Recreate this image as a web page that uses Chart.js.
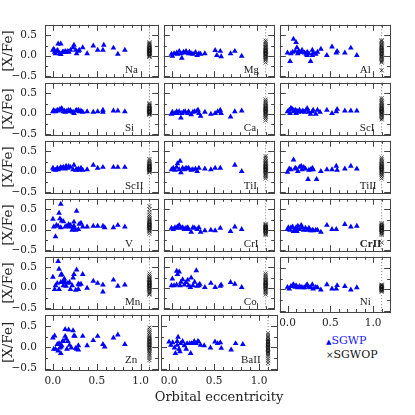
<!DOCTYPE html>
<html>
<head>
<meta charset="utf-8">
<script src="https://cdn.jsdelivr.net/npm/chart.js@4.4.0/dist/chart.umd.min.js"></script>
<style>
  body { margin: 0; background: #fff; }
  #wrap { position: relative; width: 415px; height: 415px; overflow: hidden; }
  #wrap canvas { position: absolute; }
  .leg { position: absolute; font: 11px "DejaVu Serif"; line-height: 12px; white-space: nowrap; }
</style>
</head>
<body>
<div id="wrap">
  <div class="leg" style="left:326px; top:335px; color:#1a1aff;"><span style="font-size:7px; color:#0000ff;">▲</span>SGWP</div>
  <div class="leg" style="left:326px; top:349px; color:#111;"><span style="font-size:9px;">×</span>SGWOP</div>
</div>
<script>
// eccentricity of the planet hosts (SGWP) and their [X/Fe]
const naEcc = [0.00,0.01,0.02,0.03,0.05,0.05,0.06,0.06,0.08,0.09,0.09,0.11,0.12,0.14,0.15,0.17,0.18,0.20,0.23,0.24,0.26,0.27,0.29,0.30,0.34,0.39,0.46,0.51,0.57,0.58,0.69,0.74,0.82];
const naXFe = [0.14,0.16,0.09,0.05,0.11,0.13,0.29,0.11,0.05,0.29,0.03,0.09,0.09,0.11,0.09,0.11,0.09,0.14,0.20,0.26,0.14,0.05,0.11,0.14,0.20,0.05,0.24,0.14,0.14,0.26,0.19,0.04,0.14];
const mgEcc = [0.00,0.01,0.03,0.06,0.07,0.09,0.11,0.12,0.14,0.16,0.17,0.20,0.21,0.23,0.25,0.28,0.30,0.32,0.34,0.39,0.51,0.53,0.57,0.58,0.69,0.74,0.82];
const mgXFe = [0.04,-0.01,0.05,0.07,0.04,0.11,0.05,-0.06,0.09,0.07,0.11,0.05,0.09,0.05,0.04,0.08,0.01,0.05,0.04,0.05,0.13,0.01,0.11,-0.02,0.05,0.11,-0.01];
const alEcc = [0.00,0.03,0.04,0.06,0.07,0.09,0.10,0.11,0.12,0.13,0.14,0.16,0.17,0.20,0.22,0.23,0.23,0.25,0.27,0.29,0.29,0.30,0.33,0.35,0.39,0.46,0.52,0.57,0.58,0.67,0.74,0.81];
const alXFe = [0.07,-0.14,0.05,0.09,0.41,0.11,0.33,0.20,0.05,0.11,0.09,0.09,0.14,0.07,0.04,0.09,0.01,0.05,-0.14,0.14,0.01,0.07,0.04,0.09,0.16,0.01,0.22,0.07,0.11,0.07,0.19,0.01];
const siEcc = [0.00,0.01,0.03,0.05,0.06,0.08,0.09,0.10,0.12,0.13,0.14,0.16,0.18,0.19,0.20,0.23,0.24,0.26,0.27,0.29,0.30,0.32,0.34,0.39,0.46,0.51,0.57,0.57,0.69,0.74,0.82];
const siXFe = [0.05,0.08,0.05,0.09,0.07,0.11,0.09,0.13,0.05,0.07,0.04,0.07,0.08,0.05,0.08,0.04,0.01,0.07,0.08,0.09,0.05,0.07,0.04,0.05,0.04,0.05,0.09,0.04,0.07,0.07,0.05];
const caEcc = [0.00,0.01,0.04,0.06,0.07,0.09,0.11,0.12,0.14,0.16,0.19,0.20,0.23,0.25,0.27,0.30,0.31,0.32,0.34,0.39,0.46,0.51,0.54,0.57,0.58,0.69,0.74,0.82];
const caXFe = [-0.01,0.04,0.01,0.05,0.01,0.05,-0.10,0.01,0.04,0.05,0.01,0.05,-0.02,0.04,0.05,0.07,0.09,0.01,-0.06,0.04,-0.01,0.01,0.05,0.09,0.01,-0.08,0.05,0.07];
const sc1Ecc = [0.00,0.02,0.03,0.04,0.06,0.07,0.09,0.10,0.11,0.13,0.14,0.17,0.18,0.20,0.22,0.23,0.25,0.27,0.29,0.30,0.33,0.35,0.38,0.46,0.52,0.57,0.58,0.67,0.74,0.81];
const sc1XFe = [0.05,0.09,0.01,0.14,0.11,0.05,0.09,0.01,0.07,0.04,0.09,0.05,0.07,0.04,0.09,0.13,0.04,-0.01,0.05,0.09,-0.01,0.09,0.04,0.09,0.01,0.05,0.11,0.07,0.07,0.07];
const sc2Ecc = [0.00,0.01,0.03,0.05,0.06,0.08,0.09,0.11,0.12,0.14,0.15,0.17,0.18,0.20,0.23,0.24,0.26,0.27,0.29,0.30,0.32,0.34,0.39,0.46,0.51,0.57,0.69,0.74,0.82];
const sc2XFe = [0.09,0.05,0.04,0.09,0.05,0.07,0.11,0.09,0.11,0.07,0.14,0.09,0.13,0.11,0.05,0.16,0.04,0.05,0.07,0.04,0.09,0.04,0.05,0.16,0.09,0.11,0.11,0.11,0.11];
const ti1Ecc = [0.00,0.02,0.04,0.06,0.07,0.09,0.10,0.11,0.13,0.15,0.17,0.19,0.20,0.23,0.25,0.28,0.30,0.32,0.39,0.46,0.51,0.57,0.74,0.82];
const ti1XFe = [0.05,0.09,0.04,0.11,0.20,0.05,0.26,-0.02,0.09,0.05,0.09,0.07,0.09,0.04,0.05,0.07,0.01,0.09,0.07,0.05,0.09,0.09,0.16,0.01];
const ti2Ecc = [0.00,0.02,0.04,0.07,0.09,0.10,0.12,0.14,0.16,0.17,0.19,0.21,0.24,0.25,0.27,0.29,0.30,0.34,0.39,0.46,0.52,0.57,0.58,0.67,0.74,0.81];
const ti2XFe = [-0.01,0.07,0.05,0.29,0.09,0.07,0.01,0.11,0.14,0.05,0.11,0.07,-0.19,0.04,0.05,0.09,0.05,-0.19,0.01,0.05,0.05,0.14,0.04,0.07,0.14,0.07];
const vEcc = [0.00,0.01,0.03,0.04,0.06,0.07,0.08,0.09,0.09,0.10,0.12,0.14,0.16,0.18,0.19,0.20,0.22,0.23,0.24,0.24,0.26,0.27,0.29,0.30,0.32,0.34,0.39,0.46,0.51,0.57,0.59,0.69,0.74,0.82];
const vXFe = [0.26,0.07,-0.17,0.11,0.09,0.41,0.27,0.63,0.05,0.22,0.20,0.07,0.09,0.13,0.07,0.11,-0.01,0.05,0.19,0.09,-0.01,0.46,0.01,0.14,0.16,0.07,0.07,0.09,0.09,0.09,0.05,0.05,0.11,0.07];
const cr1Ecc = [0.00,0.02,0.04,0.06,0.07,0.09,0.11,0.13,0.15,0.17,0.19,0.20,0.23,0.25,0.27,0.30,0.32,0.34,0.39,0.46,0.51,0.57,0.69,0.74,0.82];
const cr1XFe = [0.04,0.01,0.05,0.04,0.07,0.11,0.04,0.05,0.01,0.04,0.05,0.01,-0.06,0.05,0.04,0.01,0.05,-0.06,-0.02,-0.01,-0.02,0.04,-0.04,0.07,0.01];
const cr2Ecc = [0.00,0.01,0.03,0.04,0.06,0.07,0.09,0.10,0.11,0.12,0.14,0.16,0.17,0.19,0.21,0.23,0.25,0.27,0.29,0.30,0.33,0.35,0.39,0.46,0.52,0.57,0.67,0.74,0.81];
const cr2XFe = [0.01,0.05,-0.01,0.05,0.07,-0.04,-0.02,0.05,-0.04,0.09,0.01,0.11,0.05,-0.01,0.04,-0.01,0.04,-0.02,-0.01,-0.02,-0.01,-0.01,-0.06,0.11,0.01,0.01,0.13,0.07,0.09];
const mnEcc = [0.00,0.02,0.03,0.05,0.06,0.07,0.07,0.09,0.09,0.10,0.12,0.12,0.13,0.14,0.15,0.17,0.19,0.20,0.22,0.23,0.24,0.26,0.27,0.29,0.29,0.30,0.32,0.34,0.39,0.46,0.51,0.57,0.57,0.69,0.74,0.82];
const mnXFe = [0.26,-0.04,0.05,0.11,0.65,-0.04,0.46,0.13,0.31,0.33,0.16,0.05,0.22,0.13,0.04,0.11,0.13,-0.04,0.05,0.24,0.33,-0.06,0.44,-0.04,0.09,0.07,0.09,0.33,-0.01,0.16,0.11,-0.10,0.07,0.19,0.04,0.07];
const coEcc = [0.00,0.01,0.03,0.06,0.06,0.07,0.09,0.10,0.11,0.13,0.15,0.17,0.19,0.20,0.22,0.23,0.25,0.27,0.29,0.30,0.32,0.33,0.39,0.46,0.51,0.57,0.58,0.69,0.74,0.82];
const coXFe = [0.05,0.22,0.05,0.07,0.41,0.33,0.39,0.05,0.14,0.20,0.07,0.13,0.19,0.05,0.01,0.24,0.05,0.14,0.42,0.04,0.05,0.09,0.01,0.11,0.01,0.04,0.07,0.13,0.09,0.01];
const niEcc = [0.00,0.02,0.04,0.06,0.07,0.09,0.10,0.12,0.14,0.16,0.18,0.20,0.22,0.23,0.25,0.27,0.29,0.30,0.33,0.35,0.39,0.46,0.52,0.57,0.58,0.67,0.74,0.81];
const niXFe = [0.05,0.01,0.07,0.09,0.11,0.05,0.09,0.04,0.07,0.05,0.04,0.04,0.09,0.11,0.05,0.04,0.11,0.01,0.05,0.04,-0.01,0.11,0.01,0.01,0.09,0.07,-0.01,0.04];
const znEcc = [0.00,0.01,0.02,0.03,0.05,0.06,0.07,0.08,0.09,0.09,0.10,0.11,0.12,0.14,0.14,0.15,0.16,0.17,0.18,0.19,0.21,0.23,0.24,0.25,0.26,0.27,0.29,0.29,0.34,0.39,0.46,0.51,0.57,0.59,0.69,0.74,0.82];
const znXFe = [0.22,-0.04,0.27,-0.04,0.07,-0.08,0.09,-0.01,0.01,-0.14,0.04,0.14,0.14,0.42,0.26,0.20,-0.04,0.14,0.41,0.05,-0.01,0.39,0.27,0.26,-0.02,-0.04,-0.06,0.04,0.26,0.04,0.16,0.26,0.07,0.01,0.22,0.29,0.07];
const baEcc = [0.00,0.02,0.04,0.06,0.07,0.09,0.09,0.10,0.11,0.12,0.13,0.15,0.17,0.19,0.20,0.23,0.24,0.25,0.27,0.28,0.30,0.32,0.33,0.35,0.39,0.46,0.51,0.54,0.57,0.58,0.69,0.74,0.82];
const baXFe = [0.13,0.05,0.11,-0.01,-0.14,0.05,0.14,0.24,-0.04,-0.10,0.09,0.14,0.04,-0.04,0.09,0.09,-0.14,0.09,0.09,0.14,0.09,0.14,0.13,0.05,0.04,-0.01,0.13,0.09,0.11,-0.02,-0.06,0.09,0.07];

// [X/Fe] of the comparison stars without planets (SGWOP), all plotted at one column
const naWop = [0.33,0.30,0.28,0.25,0.23,0.21,0.19,0.18,0.17,0.16,0.15,0.14,0.13,0.12,0.11,0.10,0.09,0.08,0.07,0.06,0.05,0.04,0.02,0.00,-0.02,-0.03];
const mgWop = [0.37,0.33,0.29,0.26,0.23,0.21,0.19,0.17,0.15,0.13,0.12,0.10,0.09,0.08,0.06,0.05,0.03,0.02,0.00,-0.02,-0.04,-0.06,-0.09,-0.12,-0.17];
const alWop = [0.38,0.35,0.31,0.28,0.25,0.22,0.20,0.18,0.16,0.14,0.12,0.10,0.08,0.06,0.04,0.02,0.00,-0.02,-0.05,-0.08,-0.11,-0.14,-0.17,-0.36];
const siWop = [0.26,0.23,0.20,0.18,0.16,0.14,0.13,0.12,0.11,0.10,0.09,0.08,0.07,0.06,0.05,0.04,0.03,0.02,0.01,0.00,-0.01,-0.03];
const caWop = [0.35,0.31,0.27,0.24,0.21,0.19,0.17,0.15,0.13,0.12,0.10,0.09,0.08,0.06,0.05,0.03,0.02,0.00,-0.02,-0.05,-0.08,-0.12,-0.17];
const sc1Wop = [0.38,0.34,0.30,0.27,0.24,0.21,0.19,0.17,0.15,0.13,0.12,0.10,0.09,0.08,0.06,0.05,0.03,0.02,0.00,-0.02,-0.05,-0.08,-0.11,-0.14];
const sc2Wop = [0.31,0.27,0.24,0.21,0.19,0.17,0.15,0.14,0.13,0.12,0.11,0.10,0.09,0.08,0.07,0.06,0.05,0.04,0.03,0.02,0.00,-0.02];
const ti1Wop = [0.38,0.34,0.30,0.26,0.23,0.21,0.19,0.17,0.15,0.13,0.12,0.10,0.09,0.08,0.06,0.05,0.03,0.02,0.00,-0.02,-0.04,-0.07,-0.10,-0.13,-0.17];
const ti2Wop = [0.35,0.31,0.27,0.24,0.21,0.19,0.17,0.15,0.13,0.12,0.10,0.09,0.08,0.06,0.05,0.03,0.02,0.00,-0.02,-0.05,-0.08,-0.12,-0.17];
const vWop = [0.58,0.50,0.43,0.37,0.32,0.28,0.25,0.22,0.20,0.18,0.16,0.14,0.12,0.11,0.10,0.09,0.08,0.06,0.05,0.04,0.02,0.00,-0.02,-0.05,-0.10];
const cr1Wop = [0.14,0.12,0.10,0.08,0.07,0.06,0.05,0.04,0.03,0.02,0.01,0.00,-0.01,-0.02,-0.03,-0.05,-0.07,-0.09,-0.11,-0.13];
const cr2Wop = [0.16,0.13,0.11,0.09,0.08,0.07,0.06,0.05,0.04,0.03,0.02,0.01,0.00,-0.01,-0.02,-0.04,-0.06,-0.08,-0.10,-0.13,-0.32];
const mnWop = [0.35,0.30,0.26,0.23,0.21,0.19,0.17,0.15,0.14,0.12,0.11,0.10,0.08,0.07,0.06,0.04,0.03,0.02,0.00,-0.02,-0.04,-0.06,-0.09,-0.12,-0.15,-0.17];
const coWop = [0.35,0.31,0.27,0.24,0.21,0.19,0.17,0.15,0.13,0.12,0.10,0.09,0.07,0.06,0.05,0.03,0.02,0.00,-0.02,-0.04,-0.07,-0.10,-0.13,-0.17];
const niWop = [0.11,0.09,0.08,0.07,0.06,0.05,0.04,0.03,0.02,0.01,0.00,-0.01,-0.02,-0.04,-0.06];
const znWop = [0.46,0.41,0.36,0.32,0.28,0.25,0.22,0.20,0.18,0.16,0.14,0.12,0.10,0.08,0.06,0.05,0.03,0.01,-0.01,-0.03,-0.06,-0.09,-0.12,-0.16,-0.20,-0.25,-0.30];
const baWop = [0.33,0.28,0.24,0.20,0.17,0.15,0.13,0.11,0.09,0.07,0.06,0.04,0.02,0.01,-0.01,-0.03,-0.05,-0.07,-0.09,-0.11,-0.13,-0.16,-0.20,-0.26,-0.31,-0.37];

const SGWOP_ECC = 1.1;
const X_TICKS = [0, 0.5, 1.0];
const Y_TICKS = [-0.5, 0, 0.5];
const Y_MINOR = [-0.5, -0.25, 0, 0.25, 0.5];
const X_MIN = -0.09, X_MAX = 1.2, Y_MIN = -0.53, Y_MAX = 0.76;

const panels = [
  { label: 'Na',   ecc: naEcc,  xfe: naXFe,  wop: naWop },
  { label: 'Mg',   ecc: mgEcc,  xfe: mgXFe,  wop: mgWop },
  { label: 'Al',   ecc: alEcc,  xfe: alXFe,  wop: alWop },
  { label: 'Si',   ecc: siEcc,  xfe: siXFe,  wop: siWop },
  { label: 'Ca',   ecc: caEcc,  xfe: caXFe,  wop: caWop },
  { label: 'ScI',  ecc: sc1Ecc, xfe: sc1XFe, wop: sc1Wop },
  { label: 'ScII', ecc: sc2Ecc, xfe: sc2XFe, wop: sc2Wop },
  { label: 'TiI',  ecc: ti1Ecc, xfe: ti1XFe, wop: ti1Wop },
  { label: 'TiII', ecc: ti2Ecc, xfe: ti2XFe, wop: ti2Wop },
  { label: 'V',    ecc: vEcc,   xfe: vXFe,   wop: vWop },
  { label: 'CrI',  ecc: cr1Ecc, xfe: cr1XFe, wop: cr1Wop },
  { label: 'CrII', ecc: cr2Ecc, xfe: cr2XFe, wop: cr2Wop, bold: true },
  { label: 'Mn',   ecc: mnEcc,  xfe: mnXFe,  wop: mnWop },
  { label: 'Co',   ecc: coEcc,  xfe: coXFe,  wop: coWop },
  { label: 'Ni',   ecc: niEcc,  xfe: niXFe,  wop: niWop },
  { label: 'Zn',   ecc: znEcc,  xfe: znXFe,  wop: znWop },
  { label: 'BaII', ecc: baEcc,  xfe: baXFe,  wop: baWop }
];

const PW = 116, PH = 58, X0 = 45, Y0 = 22;
const TXT = '#222';
const wrap = document.getElementById('wrap');

// frame with inward ticks on all four sides, element name, shared x title
const deco = {
  id: 'deco',
  beforeDatasetsDraw(chart) {
    const { ctx, chartArea: a, scales: { x, y } } = chart;
    ctx.save();
    ctx.strokeStyle = '#444';
    ctx.lineWidth = 1;
    ctx.beginPath();
    for (let k = 0; k <= 12; k++) {
      const v = k / 10;
      const px = Math.round(x.getPixelForValue(v)) + 0.5;
      const len = X_TICKS.some(t => Math.abs(t - v) < 1e-6) ? 6 : 3;
      ctx.moveTo(px, a.bottom); ctx.lineTo(px, a.bottom - len);
      ctx.moveTo(px, a.top);    ctx.lineTo(px, a.top + len);
    }
    Y_MINOR.forEach(v => {
      const py = Math.round(y.getPixelForValue(v)) + 0.5;
      const len = Y_TICKS.includes(v) ? 6 : 3;
      ctx.moveTo(a.left, py);  ctx.lineTo(a.left + len, py);
      ctx.moveTo(a.right, py); ctx.lineTo(a.right - len, py);
    });
    ctx.stroke();
    ctx.strokeRect(Math.round(a.left) + 0.5, Math.round(a.top) + 0.5,
                   Math.round(a.right - a.left), Math.round(a.bottom - a.top));
    ctx.restore();
  },
  afterDraw(chart, args, opts) {
    const { ctx, chartArea: a } = chart;
    ctx.save();
    ctx.fillStyle = TXT;
    ctx.textBaseline = 'middle';
    ctx.textAlign = 'left';
    ctx.font = (opts.bold ? 'bold ' : '') + '11px "Liberation Serif"';
    ctx.fillText(opts.label, a.left + 80, a.top + 45);
    if (opts.xTitle) {
      ctx.textAlign = 'center';
      ctx.font = '13px "DejaVu Serif"';
      ctx.fillText(opts.xTitle, (a.left + a.right) / 2, a.bottom + 28);
    }
    ctx.restore();
  }
};

panels.forEach((p, i) => {
  const row = Math.floor(i / 3), col = i % 3;
  const showX = row === 5 || i === 14;
  const showY = col === 0;
  const hasTitle = i === 16;
  const side = hasTitle ? 24 : 2;               // room for the wide x title
  const padL = showY ? X0 : side;
  const padR = side;
  const padB = hasTitle ? 38 : (showX ? 22 : 2);
  const w = padL + PW + padR, h = 2 + PH + padB;

  const canvas = document.createElement('canvas');
  canvas.width = w; canvas.height = h;
  canvas.style.width = w + 'px'; canvas.style.height = h + 'px';
  canvas.style.left = (X0 + col * PW - padL) + 'px';
  canvas.style.top  = (Y0 + row * PH - 2) + 'px';
  wrap.appendChild(canvas);

  new Chart(canvas, {
    type: 'scatter',
    data: {
      datasets: [
        {
          label: 'divider',
          data: [{ x: SGWOP_ECC, y: -1 }, { x: SGWOP_ECC, y: 1 }],
          showLine: true, pointRadius: 0,
          borderColor: '#777', borderWidth: 1, borderDash: [1, 2]
        },
        {
          label: 'SGWOP',
          data: p.wop.map(v => ({ x: SGWOP_ECC, y: v })),
          pointStyle: 'crossRot', pointRadius: 2.8,
          borderColor: '#111', backgroundColor: '#111', borderWidth: 0.8
        },
        {
          label: 'SGWP',
          data: p.ecc.map((e, k) => ({ x: e, y: p.xfe[k] })),
          pointStyle: 'triangle', pointRadius: 3.3,
          backgroundColor: '#0000ff', borderColor: '#0000ff', borderWidth: 0
        }
      ]
    },
    options: {
      responsive: false,
      animation: false,
      devicePixelRatio: 1,
      events: [],
      layout: { padding: { left: showY ? 0 : padL, right: padR, top: 2, bottom: showX ? 0 : 2 } },
      plugins: {
        legend: { display: false },
        tooltip: { enabled: false },
        deco: { label: p.label, bold: !!p.bold, xTitle: hasTitle ? 'Orbital eccentricity' : null }
      },
      scales: {
        x: {
          type: 'linear', min: X_MIN, max: X_MAX, display: showX,
          grid: { display: false, drawTicks: false },
          border: { display: false },
          afterBuildTicks: s => { s.ticks = X_TICKS.map(v => ({ value: v })); },
          afterFit: s => {
            s.height = showX ? padB : 0;
            s.paddingLeft = 0; s.paddingRight = 0; s.paddingTop = 0; s.paddingBottom = 0;
          },
          ticks: {
            padding: 5, maxRotation: 0, autoSkip: false, color: TXT,
            font: { family: 'DejaVu Serif', size: 10.5 },
            callback: v => v.toFixed(1)
          }
        },
        y: {
          type: 'linear', min: Y_MIN, max: Y_MAX, display: showY,
          grid: { display: false, drawTicks: false },
          border: { display: false },
          afterBuildTicks: s => { s.ticks = Y_TICKS.map(v => ({ value: v })); },
          afterFit: s => {
            s.width = showY ? X0 : 0;
            s.paddingLeft = 0; s.paddingRight = 0; s.paddingTop = 0; s.paddingBottom = 0;
          },
          ticks: {
            padding: 8, autoSkip: false, color: TXT,
            font: { family: 'DejaVu Serif', size: 10.5 },
            callback: v => (v < 0 ? '−' : '') + Math.abs(v).toFixed(1)
          },
          title: {
            display: true, text: '[X/Fe]', color: TXT,
            font: { family: 'DejaVu Serif', size: 13.5 },
            padding: { top: 0, bottom: 0 }
          }
        }
      }
    },
    plugins: [deco]
  });
});
</script>
</body>
</html>
